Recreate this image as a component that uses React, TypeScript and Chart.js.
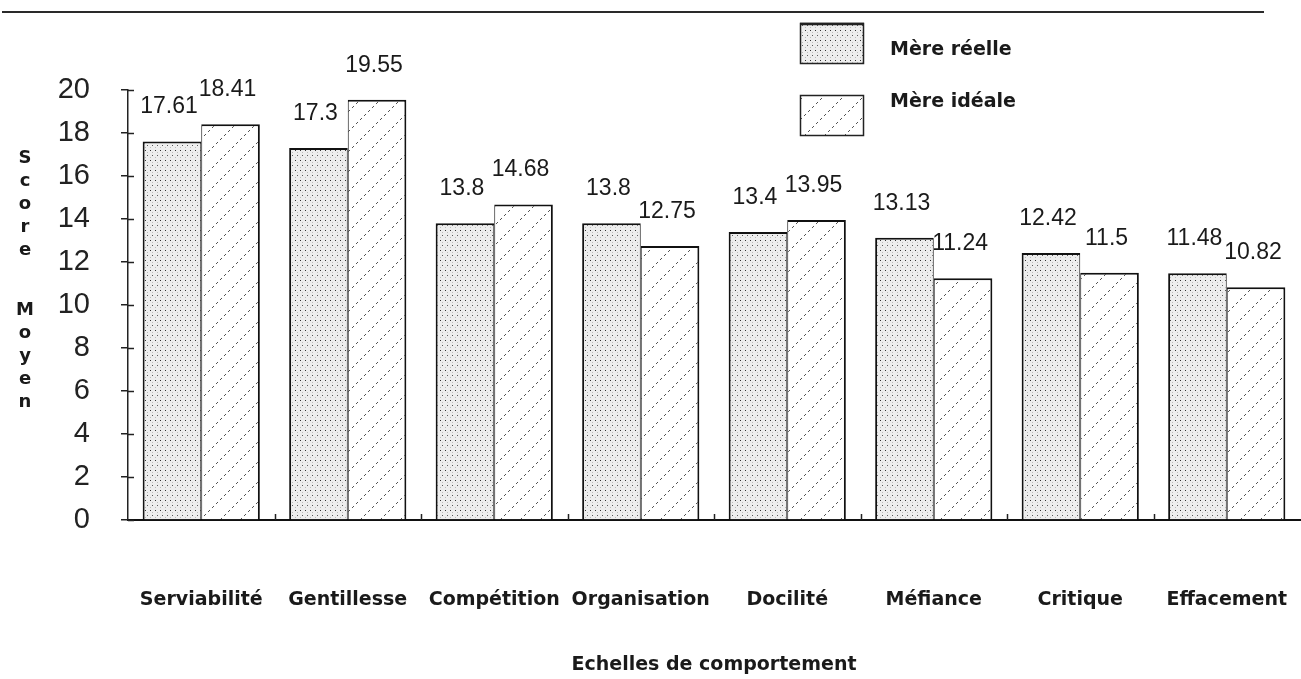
import React, { useEffect, useRef } from "react";
import { Chart, registerables } from "chart.js";

Chart.register(...registerables);

const categories = [
  "Serviabilité",
  "Gentillesse",
  "Compétition",
  "Organisation",
  "Docilité",
  "Méfiance",
  "Critique",
  "Effacement",
];
const mereReelle = [17.61, 17.3, 13.8, 13.8, 13.4, 13.13, 12.42, 11.48];
const mereIdeale = [18.41, 19.55, 14.68, 12.75, 13.95, 11.24, 11.5, 10.82];
const seriesNames = ["Mère réelle", "Mère idéale"];
const yAxisLetters = ["S", "c", "o", "r", "e", "", "M", "o", "y", "e", "n"];
const xAxisTitle = "Echelles de comportement";

const NUM_FONT = "'Liberation Sans', Arial, sans-serif";
const MAC_FONT = "'DejaVu Sans', sans-serif";

function makeDotPattern(): CanvasPattern | string {
  const w = 10;
  const h = 10;
  const c = document.createElement("canvas");
  c.width = w;
  c.height = h;
  const g = c.getContext("2d");
  if (!g) return "#ccc";
  g.fillStyle = "#eeeeee";
  g.fillRect(0, 0, w, h);
  g.fillStyle = "#bcbcbc";
  g.fillRect(2, 2, 1, 1);
  g.fillRect(7, 2, 1, 1);
  g.fillRect(0, 7, 1, 1);
  g.fillRect(5, 7, 1, 1);
  g.fillStyle = "#333333";
  g.fillRect(0, 0, 1, 1);
  g.fillRect(5, 0, 1, 1);
  g.fillStyle = "#5a5a5a";
  g.fillRect(2, 5, 1, 1);
  g.fillRect(7, 5, 1, 1);
  const p = g.createPattern(c, "repeat");
  return p || "#ccc";
}

function makeHatchPattern(): CanvasPattern | string {
  const s = 20;
  const c = document.createElement("canvas");
  c.width = s;
  c.height = s;
  const g = c.getContext("2d");
  if (!g) return "#eee";
  g.fillStyle = "#ffffff";
  g.fillRect(0, 0, s, s);
  g.fillStyle = "#555555";
  for (let i = 0; i < s; i++) {
    if (i % 4 < 2) g.fillRect(i, s - 1 - i, 1, 1);
  }
  const p = g.createPattern(c, "repeat");
  return p || "#eee";
}

export default function App() {
  const ref = useRef<HTMLCanvasElement | null>(null);

  useEffect(() => {
    document.body.style.margin = "0";
    const canvas = ref.current;
    if (!canvas) return;
    const dots = makeDotPattern();
    const hatch = makeHatchPattern();

    const decor = {
      id: "decor",
      afterDraw(chart: any) {
        const ctx = chart.ctx as CanvasRenderingContext2D;
        const area = chart.chartArea;
        const ys = chart.scales.y;
        const xs = chart.scales.x;
        ctx.save();
        // top frame line
        ctx.strokeStyle = "#2a2a2a";
        ctx.lineWidth = 2;
        ctx.beginPath();
        ctx.moveTo(2, 12);
        ctx.lineTo(1264, 12);
        ctx.stroke();

        // inner parts of y ticks
        ctx.lineWidth = 1.5;
        ctx.strokeStyle = "#222";
        for (let v = 0; v <= 20; v += 2) {
          const py = Math.round(ys.getPixelForValue(v)) + 0.5;
          ctx.beginPath();
          ctx.moveTo(area.left, py);
          ctx.lineTo(area.left + 6, py);
          ctx.stroke();
        }
        // x category ticks (upwards)
        const n = categories.length;
        for (let i = 1; i < n; i++) {
          const px =
            (xs.getPixelForValue(i - 1) + xs.getPixelForValue(i)) / 2;
          ctx.beginPath();
          ctx.moveTo(Math.round(px) + 0.5, area.bottom);
          ctx.lineTo(Math.round(px) + 0.5, area.bottom - 6);
          ctx.stroke();
        }

        // category labels
        ctx.fillStyle = "#1a1a1a";
        ctx.font = `bold 19px ${MAC_FONT}`;
        ctx.textAlign = "center";
        ctx.textBaseline = "middle";
        categories.forEach((c, i) => {
          ctx.fillText(c, xs.getPixelForValue(i), 600);
        });

        // y axis title letters
        ctx.font = `bold 18px ${MAC_FONT}`;
        yAxisLetters.forEach((ch, i) => {
          if (!ch) return;
          const y = i < 5 ? 158 + i * 23 : 310 + (i - 6) * 23;
          ctx.fillText(ch, 25, y);
        });

        // data labels
        ctx.font = `23px ${NUM_FONT}`;
        ctx.textBaseline = "alphabetic";
        chart.data.datasets.forEach((ds: any, di: number) => {
          const meta = chart.getDatasetMeta(di);
          meta.data.forEach((bar: any, i: number) => {
            const val = ds.data[i];
            ctx.fillText(String(val), bar.x - 3, bar.y - 28);
          });
        });

        // legend
        const boxes = [
          { y: 23, fill: dots, ty: 50 },
          { y: 95, fill: hatch, ty: 102 },
        ];
        boxes.forEach((b, i) => {
          ctx.fillStyle = b.fill as any;
          ctx.fillRect(800, b.y, 63, 40);
          ctx.strokeStyle = "#222";
          ctx.lineWidth = 1.5;
          ctx.strokeRect(800.5, b.y + 0.5, 63, 40);
          if (i === 0) {
            ctx.lineWidth = 2.5;
            ctx.beginPath();
            ctx.moveTo(800, b.y + 1);
            ctx.lineTo(864, b.y + 1);
            ctx.stroke();
          }
          ctx.fillStyle = "#1a1a1a";
          ctx.font = `bold 19px ${MAC_FONT}`;
          ctx.textAlign = "left";
          ctx.textBaseline = "middle";
          ctx.fillText(seriesNames[i], 890, b.ty);
        });
        ctx.restore();
      },
    };

    const chart = new Chart(canvas, {
      type: "bar",
      data: {
        labels: categories,
        datasets: [
          {
            label: seriesNames[0],
            data: mereReelle,
            backgroundColor: dots as any,
            borderColor: "#111",
            borderWidth: { top: 2, left: 2, right: 1, bottom: 0 } as any,
            borderSkipped: false,
          },
          {
            label: seriesNames[1],
            data: mereIdeale,
            backgroundColor: hatch as any,
            borderColor: "#111",
            borderWidth: { top: 2, left: 1, right: 2, bottom: 0 } as any,
            borderSkipped: false,
          },
        ],
      },
      plugins: [decor],
      options: {
        responsive: false,
        animation: false,
        devicePixelRatio: 1,
        layout: { padding: { left: 28, right: 1, top: 90, bottom: 0 } },
        plugins: {
          legend: { display: false },
          tooltip: { enabled: false },
          title: { display: false },
        },
        datasets: {
          bar: { categoryPercentage: 0.8, barPercentage: 1.0 },
        },
        scales: {
          x: {
            grid: { display: false, drawTicks: false },
            border: { display: true, color: "#111", width: 2 },
            ticks: { display: false },
            title: {
              display: true,
              text: xAxisTitle,
              color: "#1a1a1a",
              font: { family: MAC_FONT, size: 19, weight: "bold" },
              padding: { top: 0, bottom: 3 },
            },
            afterFit: (s: any) => {
              s.height = 159;
            },
          },
          y: {
            min: 0,
            max: 20,
            ticks: {
              stepSize: 2,
              padding: 31,
              color: "#222",
              font: { family: NUM_FONT, size: 29 },
            },
            grid: {
              display: true,
              drawOnChartArea: false,
              drawTicks: true,
              tickLength: 7,
              color: "#222",
              lineWidth: 1.5,
            },
            border: { display: true, color: "#222", width: 1.5 },
            afterFit: (s: any) => {
              s.width = 100;
            },
          },
        },
      },
    } as any);

    return () => {
      chart.destroy();
    };
  }, []);

  return (
    <div
      style={{
        position: "absolute",
        left: 0,
        top: 0,
        width: 1301,
        height: 679,
        background: "#fff",
      }}
    >
      <canvas
        ref={ref}
        width={1301}
        height={679}
        style={{ width: 1301, height: 679, display: "block" }}
      />
    </div>
  );
}
